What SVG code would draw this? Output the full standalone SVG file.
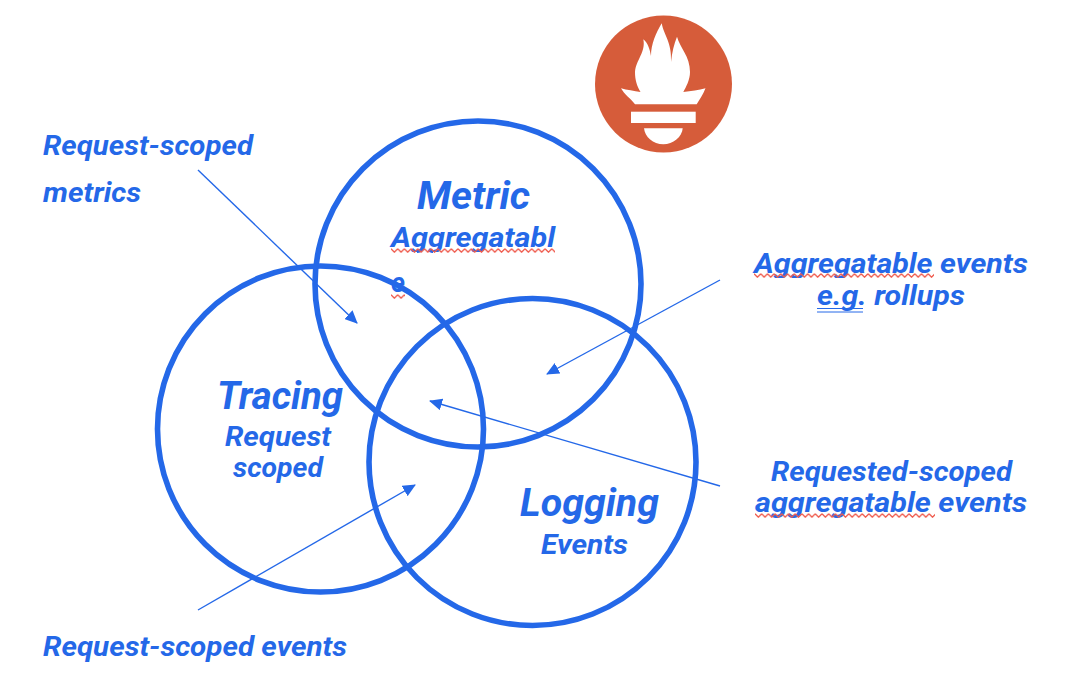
<svg xmlns="http://www.w3.org/2000/svg" width="1080" height="683" viewBox="0 0 1080 683">
<style>
text{font-family:"Roboto","Liberation Sans",sans-serif;font-style:italic;font-weight:700;fill:#2468e8}
.c{fill:none;stroke:#2468e8;stroke-width:5.600}
.l{stroke:#2468e8;stroke-width:1.400;fill:none;marker-end:url(#a)}
.s{font-size:28px}
.b{font-size:38px}
</style>
<defs>
<marker id="a" markerUnits="userSpaceOnUse" markerWidth="14" markerHeight="12" refX="12" refY="6" orient="auto"><path d="M0 0L13 6L0 12Z" fill="#2468e8"/></marker>
<pattern id="w" width="6.700" height="5" patternUnits="userSpaceOnUse"><path d="M0 .8L3.350 4.200L6.700 .8" fill="none" stroke="#ef5a4c" stroke-width="1.300"/></pattern>
<clipPath id="k1"><rect x="385" y="220" width="175" height="32"/><rect x="417" y="240" width="16" height="20"/></clipPath>
<clipPath id="k2"><rect x="750" y="250" width="290" height="28"/></clipPath>
<clipPath id="k3"><rect x="750" y="490" width="290" height="29"/></clipPath>
</defs>
<rect width="1080" height="683" fill="#fff"/>
<g id="logo">
<circle cx="663.500" cy="84" r="68.500" fill="#d65c3a"/>
<path fill="#fff" d="M661.700 23.300C664 36 672 42 671 62C672 52 674 44 677 36.700C680 48 690 56 690 72C690 80 686 87 683.300 92C691 91 699 90.500 705.500 88.300C703 95 699 100 696.700 104.300H635C631 99 624 94 621 88.300C627 90 634 91 640.500 92C637 86 635 80 635 72C636 60 646 52 643.300 39.300C648 43 650 50 651 56C651 44 656 33 661.700 23.300Z"/>
<rect x="631" y="111.700" width="64.700" height="11.300" fill="#fff"/>
<path fill="#fff" d="M644 128.300H682.700C682 137 673 144.300 663.300 144.300C653 144.300 645 137 644 128.300Z"/>
</g>
<g id="connectors">
<path class="l" d="M198 170L357 323"/>
<path class="l" d="M720 280L547 374"/>
<path class="l" d="M720 486L430 401"/>
<path class="l" d="M198 610L415 485"/>
</g>
<g id="metric">
<circle class="c" cx="478" cy="284" r="163"/>
<text class="b" x="417" y="209" textLength="113" lengthAdjust="spacingAndGlyphs">Metric</text>
<text class="s" x="391" y="247" textLength="164" lengthAdjust="spacingAndGlyphs" clip-path="url(#k1)">Aggregatabl</text>
<g transform="translate(391 248)"><rect width="164" height="5" fill="url(#w)"/></g>
<text class="s" x="391" y="292" textLength="14" lengthAdjust="spacingAndGlyphs">e</text>
<g transform="translate(391 294)"><rect width="14" height="5" fill="url(#w)"/></g>
</g>
<g id="tracing">
<circle class="c" cx="320.500" cy="429" r="163"/>
<text class="b" x="217" y="409" textLength="126" lengthAdjust="spacingAndGlyphs">Tracing</text>
<text class="s" x="225" y="446" textLength="106" lengthAdjust="spacingAndGlyphs">Request</text>
<text class="s" x="233" y="477" textLength="90" lengthAdjust="spacingAndGlyphs">scoped</text>
</g>
<g id="logging">
<circle class="c" cx="532.500" cy="462" r="163.500"/>
<text class="b" x="520" y="516" textLength="139" lengthAdjust="spacingAndGlyphs">Logging</text>
<text class="s" x="541" y="554" textLength="87" lengthAdjust="spacingAndGlyphs">Events</text>
</g>
<g id="label-request-metrics">
<text class="s" x="43" y="155" textLength="210" lengthAdjust="spacingAndGlyphs">Request-scoped</text>
<text class="s" x="43" y="202" textLength="98" lengthAdjust="spacingAndGlyphs">metrics</text>
</g>
<g id="label-aggregatable">
<text class="s" x="754" y="273" textLength="274" lengthAdjust="spacingAndGlyphs" clip-path="url(#k2)">Aggregatable events</text>
<g transform="translate(754 273)"><rect width="180" height="5" fill="url(#w)"/></g>
<text class="s" x="817" y="305" textLength="148" lengthAdjust="spacingAndGlyphs">e.g. rollups</text>
<path d="M817 308.500H863M817 312H863" stroke="#2468e8" stroke-width="1" fill="none"/>
</g>
<g id="label-requested">
<text class="s" x="771" y="481" textLength="241" lengthAdjust="spacingAndGlyphs">Requested-scoped</text>
<text class="s" x="755" y="512" textLength="272" lengthAdjust="spacingAndGlyphs" clip-path="url(#k3)">aggregatable events</text>
<g transform="translate(755 513)"><rect width="180" height="5" fill="url(#w)"/></g>
</g>
<g id="label-request-events">
<text class="s" x="43" y="656" textLength="304" lengthAdjust="spacingAndGlyphs">Request-scoped events</text>
</g>
</svg>
